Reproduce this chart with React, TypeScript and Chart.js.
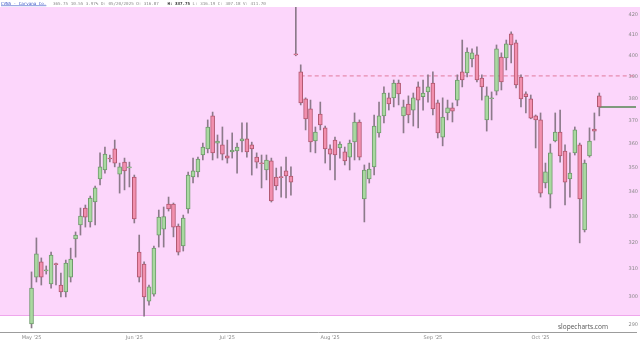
import React, { useEffect, useRef } from "react";
import { Chart, registerables } from "chart.js";

Chart.register(...registerables);

// ---- data (daily candles) ----
const opens = [
  290.4, 307.1, 312.7, 309.4, 304.6, 312.1, 304.2, 301.7, 307.1, 321.4,
  326.8, 333.5, 328.0, 335.9, 345.3, 349.0, 354.0, 357.9, 347.3, 352.3,
  349.9, 346.1, 316.4, 311.9, 298.4, 300.9, 322.9, 325.2, 335.1, 335.1,
  326.4, 318.7, 333.1, 346.1, 348.2, 355.3, 357.9, 372.3, 360.4, 359.6,
  354.9, 356.6, 357.0, 361.3, 362.2, 359.6, 354.4, 351.9, 349.0, 352.8,
  346.1, 346.1, 348.6, 346.5, 400.8, 392.4, 379.9, 375.4, 361.3, 373.1,
  367.0, 357.9, 361.7, 358.3, 356.6, 354.4, 360.9, 369.6, 337.1, 345.3,
  350.3, 364.8, 372.3, 380.4, 380.4, 387.2, 372.3, 377.6, 374.9, 385.4,
  380.9, 383.1, 387.2, 378.1, 363.0, 373.6, 375.9, 379.4, 392.4, 391.9,
  398.5, 400.4, 389.5, 370.5, 380.0, 383.5, 399.4, 399.0, 410.6, 406.2,
  390.0, 382.2, 379.9, 372.3, 370.5, 343.6, 339.1, 361.3, 365.2, 357.0,
  345.3, 356.2, 359.6, 324.9, 354.9, 366.5, 381.3,
];
const highs = [
  309.0, 321.8, 314.2, 311.2, 316.4, 312.3, 308.6, 313.4, 317.9, 324.1,
  333.5, 334.7, 338.3, 342.4, 356.2, 358.7, 355.3, 361.7, 351.9, 354.0,
  352.3, 346.9, 322.9, 312.7, 304.2, 318.7, 332.7, 333.9, 337.9, 335.5,
  327.2, 330.7, 348.1, 354.0, 354.4, 360.4, 370.5, 374.0, 363.9, 367.4,
  361.7, 364.8, 360.4, 369.2, 369.2, 360.8, 356.2, 355.3, 355.3, 354.0,
  349.8, 350.3, 354.4, 350.3, 470.0, 395.7, 380.4, 379.4, 367.4, 378.5,
  367.8, 359.6, 363.0, 360.9, 358.7, 361.7, 373.6, 370.5, 351.1, 351.9,
  372.7, 378.5, 385.4, 382.6, 388.6, 388.6, 379.4, 381.3, 382.6, 387.7,
  388.6, 391.0, 392.4, 379.4, 380.4, 379.4, 378.1, 391.0, 407.6, 403.8,
  403.3, 404.3, 391.0, 385.4, 383.1, 405.2, 401.4, 407.6, 411.6, 407.6,
  391.0, 383.1, 381.7, 372.7, 373.6, 351.9, 360.0, 373.6, 374.9, 359.6,
  356.2, 367.4, 360.4, 353.2, 367.0, 373.6, 382.6,
];
const lows = [
  289.0, 305.3, 304.2, 308.2, 303.1, 304.2, 299.9, 299.9, 305.3, 314.5,
  322.9, 326.0, 326.0, 326.8, 342.8, 347.7, 352.4, 350.3, 339.5, 340.8,
  342.0, 327.6, 305.3, 293.1, 297.0, 300.2, 318.3, 318.3, 332.3, 322.2,
  315.3, 316.8, 331.5, 343.6, 346.1, 353.2, 356.2, 353.2, 354.0, 353.2,
  351.9, 354.0, 347.7, 356.6, 354.4, 346.9, 349.8, 341.6, 344.9, 335.9,
  340.8, 337.9, 337.5, 338.7, 400.0, 377.2, 366.1, 356.6, 356.2, 366.1,
  351.9, 349.0, 344.9, 354.0, 351.1, 349.0, 353.2, 353.2, 328.0, 343.6,
  346.9, 363.0, 369.2, 374.9, 376.3, 377.2, 364.8, 369.2, 367.8, 367.0,
  374.9, 378.5, 372.7, 362.6, 359.2, 370.5, 369.6, 376.8, 385.4, 390.0,
  394.7, 387.7, 379.4, 365.6, 370.5, 381.7, 384.0, 393.3, 396.6, 384.9,
  376.3, 373.6, 371.0, 358.3, 337.9, 341.6, 333.5, 360.9, 352.3, 334.7,
  337.9, 355.3, 319.9, 324.1, 354.4, 361.7, 372.3,
];
const closes = [
  303.1, 315.7, 307.1, 309.8, 315.3, 311.7, 301.7, 312.3, 313.8, 322.9,
  330.3, 329.9, 337.5, 341.6, 350.3, 355.7, 353.6, 351.9, 350.3, 348.6,
  350.3, 329.2, 307.1, 299.9, 303.5, 317.9, 329.9, 330.1, 333.1, 326.0,
  316.4, 329.5, 346.9, 348.6, 353.6, 358.7, 367.4, 356.2, 361.3, 355.7,
  354.0, 357.4, 358.7, 362.2, 356.6, 357.9, 352.3, 351.6, 353.2, 336.3,
  342.4, 345.8, 346.5, 344.0, 400.4, 378.1, 370.9, 360.9, 365.2, 368.3,
  357.9, 355.7, 355.3, 360.0, 352.8, 360.4, 369.6, 354.4, 349.0, 349.4,
  367.8, 372.3, 382.6, 377.6, 387.2, 382.2, 376.3, 372.7, 380.4, 379.4,
  382.6, 385.4, 375.4, 364.8, 371.8, 375.9, 374.4, 388.6, 388.6, 401.8,
  401.4, 388.6, 385.4, 381.3, 380.4, 403.3, 387.7, 405.7, 405.2, 386.3,
  379.9, 380.9, 371.3, 370.5, 339.5, 348.2, 356.2, 365.2, 354.9, 344.0,
  347.7, 366.1, 337.1, 351.9, 361.3, 365.6, 376.3,
];

const monthTickIndex = [0, 21, 40, 61, 82, 104];
const monthTickLabels = ["May '25", "Jun '25", "Jul '25", "Aug '25", "Sep '25", "Oct '25"];
const priceTicks = [290, 300, 310, 320, 330, 340, 350, 360, 370, 380, 390, 400, 410, 420];

const alertLevel = 390.5;
const alertStartIndex = 55;

const headerSymbol = "CVNA - Carvana Co.";
const headerStatsA = "365.75 10.55 3.97% D: 05/20/2025 O: 316.87";
const headerStatsB = "H: 337.75";
const headerStatsC = "L: 316.19 C: 307.18 V: 411.70";
const watermark = "slopecharts.com";

// ---- view / style ----
const X_MIN = -6.44;
const X_MAX = 123.5;
const Y_MIN = 287.6;
const Y_MAX = 424.0;

const PINK = "#fcd6fb";
const UP_FILL = "#a9d9a0";
const UP_BORDER = "#6f9a6c";
const DOWN_FILL = "#f28fae";
const DOWN_BORDER = "#b0576f";
const WICK = "#8c7a8a";

const bgPlugin = {
  id: "bgPlugin",
  beforeDraw(chart: any) {
    const { ctx, chartArea, width, height } = chart;
    ctx.save();
    ctx.fillStyle = "#ffffff";
    ctx.fillRect(0, 0, width, height);
    const pinkBottom = chartArea.bottom - 16;
    ctx.fillStyle = PINK;
    ctx.fillRect(0, chartArea.top, width, pinkBottom - chartArea.top);
    ctx.fillStyle = "#efa6ec";
    ctx.fillRect(0, pinkBottom - 1, width, 1);
    ctx.restore();
  },
  afterDraw(chart: any) {
    const { ctx, chartArea } = chart;
    ctx.save();
    ctx.textBaseline = "middle";
    const regular = '4.2px "DejaVu Sans Mono"';
    const bold = 'bold 4.2px "DejaVu Sans Mono"';
    const ty = 3.5;
    let x = 1;
    ctx.font = regular;
    ctx.fillStyle = "#3a55c8";
    ctx.fillText(headerSymbol, x, ty);
    const w = ctx.measureText(headerSymbol).width;
    ctx.fillRect(x, ty + 2, w, 0.6);
    x = 53;
    ctx.fillStyle = "#8a8a8a";
    ctx.fillText(headerStatsA, x, ty);
    x += ctx.measureText(headerStatsA + " ").width + 6;
    ctx.font = bold;
    ctx.fillStyle = "#333333";
    ctx.fillText(headerStatsB, x, ty);
    x += ctx.measureText(headerStatsB + " ").width;
    ctx.font = regular;
    ctx.fillStyle = "#8a8a8a";
    ctx.fillText(headerStatsC, x, ty);

    ctx.font = '10px "Open Sans"';
    const mw = ctx.measureText(watermark).width;
    const size = (10 * 50) / mw;
    ctx.font = `${size}px "Open Sans"`;
    ctx.fillStyle = "#555555";
    ctx.fillText(watermark, 558, chartArea.bottom - 5);
    ctx.restore();
  },
};

export default function App() {
  const ref = useRef<HTMLCanvasElement | null>(null);

  useEffect(() => {
    document.body.style.margin = "0";
    const canvas = ref.current;
    if (!canvas) return;
    const idx = opens.map((_, i) => i);
    const up = idx.map((i) => closes[i] >= opens[i]);
    const lastIndex = closes.length - 1;

    const chart = new Chart(canvas, {
      type: "bar",
      data: {
        datasets: [
          {
            type: "line",
            data: [
              { x: alertStartIndex, y: alertLevel },
              { x: X_MAX, y: alertLevel },
            ],
            borderColor: "#e07a9c",
            borderWidth: 1,
            borderDash: [4, 3],
            pointRadius: 0,
            order: 4,
          } as any,
          {
            type: "line",
            data: [
              { x: lastIndex, y: closes[lastIndex] },
              { x: X_MAX, y: closes[lastIndex] },
            ],
            borderColor: "#7f9a7d",
            borderWidth: 2,
            pointRadius: 0,
            order: 3,
          } as any,
          {
            data: idx.map((i) => ({ x: i, y: [lows[i], highs[i]] })),
            backgroundColor: WICK,
            borderWidth: 0,
            barThickness: 1,
            grouped: false,
            order: 2,
          } as any,
          {
            data: idx.map((i) => ({ x: i, y: [opens[i], closes[i]] })),
            backgroundColor: idx.map((i) => (up[i] ? UP_FILL : DOWN_FILL)),
            borderColor: idx.map((i) => (up[i] ? UP_BORDER : DOWN_BORDER)),
            borderWidth: 1,
            borderSkipped: false,
            barThickness: 4,
            minBarLength: 1,
            grouped: false,
            order: 1,
          } as any,
        ],
      },
      options: {
        animation: false,
        responsive: false,
        events: [],
        layout: { padding: { top: 7, bottom: 0, left: 0, right: 0 } },
        plugins: { legend: { display: false }, tooltip: { enabled: false } },
        scales: {
          x: {
            type: "linear",
            min: X_MIN,
            max: X_MAX,
            offset: false,
            grid: { display: false, drawTicks: false },
            border: { display: true, color: "#9c9c9c", width: 1 },
            afterBuildTicks: (s: any) => {
              s.ticks = monthTickIndex.map((v) => ({ value: v }));
            },
            afterFit: (s: any) => {
              s.height = 11;
            },
            ticks: {
              autoSkip: false,
              maxRotation: 0,
              padding: 3,
              color: "#8a8a8a",
              font: { size: 5, family: "DejaVu Sans" },
              callback: (_v: any, i: number) => monthTickLabels[i],
            },
          },
          y: {
            type: "logarithmic",
            position: "right",
            min: Y_MIN,
            max: Y_MAX,
            grid: { display: false, drawTicks: false },
            border: { display: false },
            afterBuildTicks: (s: any) => {
              s.ticks = priceTicks.map((v) => ({ value: v }));
            },
            ticks: {
              mirror: true,
              padding: 2,
              color: "#8a8a8a",
              font: { size: 5, family: "DejaVu Sans" },
              callback: (v: any) => String(v),
            },
          },
        },
      } as any,
      plugins: [bgPlugin],
    });
    return () => chart.destroy();
  }, []);

  return (
    <div style={{ width: 640, height: 343 }}>
      <canvas ref={ref} width={640} height={343} style={{ display: "block", width: 640, height: 343 }} />
    </div>
  );
}
